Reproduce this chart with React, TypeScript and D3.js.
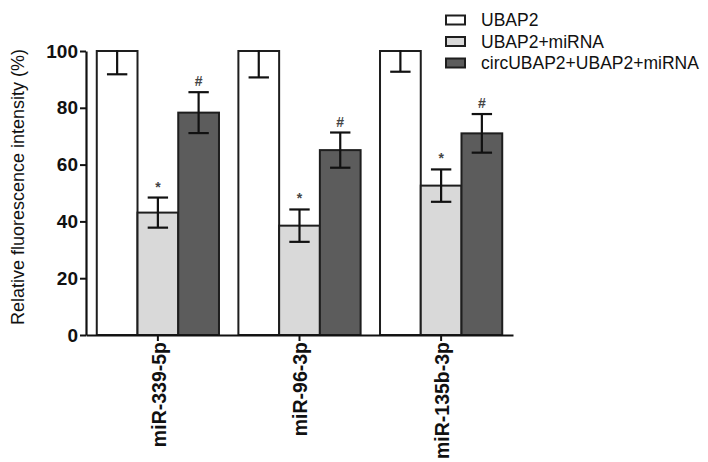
import * as d3 from "d3";
import { useEffect, useRef } from "react";

// categories on the x axis
const categories = ["miR-339-5p", "miR-96-3p", "miR-135b-3p"];
// series names (legend)
const seriesNames = ["UBAP2", "UBAP2+miRNA", "circUBAP2+UBAP2+miRNA"];
// series values (mean) and error (SD)
const ubap2 = [100, 100, 100];
const ubap2Err = [8.2, 9.3, 7.3];
const ubap2Mirna = [43.1, 38.5, 52.6];
const ubap2MirnaErr = [5.3, 5.7, 5.7];
const circUbap2 = [78.3, 65.1, 71.0];
const circUbap2Err = [7.2, 6.2, 6.8];
// significance marks above each series
const sigMarks = ["", "*", "#"];
const yTicks = [0, 20, 40, 60, 80, 100];

const seriesValues = [ubap2, ubap2Mirna, circUbap2];
const seriesErrors = [ubap2Err, ubap2MirnaErr, circUbap2Err];
const fills = ["#ffffff", "#d9d9d9", "#5c5c5c"];

const W = 708;
const H = 462;
const margin = { left: 86, right: 195, top: 51, bottom: 127 };
const FONT = "'Liberation Sans', Arial, Helvetica, sans-serif";

export default function App() {
	const svgRef = useRef<SVGSVGElement | null>(null);

	useEffect(() => {
		const svg = d3.select(svgRef.current);
		svg.selectAll("*").remove();

		svg.append("rect").attr("width", W).attr("height", H).attr("fill", "#fff");

		const x0 = d3
			.scaleBand<string>()
			.domain(categories)
			.range([margin.left, W - margin.right])
			.paddingInner(0.137)
			.paddingOuter(0.076);
		const x1 = d3
			.scaleBand<string>()
			.domain(seriesNames)
			.range([0, x0.bandwidth()]);
		const y = d3
			.scaleLinear()
			.domain([0, 100])
			.range([H - margin.bottom, margin.top]);

		// clip the error bars to the plot range
		svg
			.append("clipPath")
			.attr("id", "plotclip")
			.append("rect")
			.attr("x", 0)
			.attr("y", y(100) - 1)
			.attr("width", W)
			.attr("height", y(0) - y(100) + 2);

		const rows = categories.flatMap((c, ci) =>
			seriesNames.map((s, si) => ({
				c,
				s,
				si,
				v: seriesValues[si][ci],
				e: seriesErrors[si][ci],
			}))
		);

		const bars = svg.append("g");
		bars
			.selectAll("rect")
			.data(rows)
			.enter()
			.append("rect")
			.attr("x", (d) => x0(d.c)! + x1(d.s)!)
			.attr("y", (d) => y(d.v))
			.attr("width", x1.bandwidth())
			.attr("height", (d) => y(0) - y(d.v))
			.attr("fill", (d) => fills[d.si])
			.attr("stroke", "#1e1e1e")
			.attr("stroke-width", 2);

		// error bars
		const err = svg.append("g").attr("clip-path", "url(#plotclip)");
		const capW = x1.bandwidth() / 2;
		rows.forEach((d) => {
			const cx = x0(d.c)! + x1(d.s)! + x1.bandwidth() / 2;
			const g = err.append("g").attr("stroke", "#111").attr("stroke-width", 2.2);
			g.append("line")
				.attr("x1", cx)
				.attr("x2", cx)
				.attr("y1", y(d.v + d.e))
				.attr("y2", y(d.v - d.e));
			[d.v + d.e, d.v - d.e].forEach((val) => {
				g.append("line")
					.attr("x1", cx - capW / 2)
					.attr("x2", cx + capW / 2)
					.attr("y1", y(val))
					.attr("y2", y(val));
			});
			if (sigMarks[d.si]) {
				svg
					.append("text")
					.attr("x", cx)
					.attr("y", y(d.v + d.e) - 6)
					.attr("text-anchor", "middle")
					.attr("font-family", FONT)
					.attr("font-size", 14)
					.attr("font-weight", "bold")
					.attr("fill", "#444")
					.text(sigMarks[d.si]);
			}
		});

		// y axis
		const yAxis = d3
			.axisLeft(y)
			.tickValues(yTicks)
			.tickSize(6)
			.tickPadding(2)
			.tickSizeOuter(0);
		const yg = svg
			.append("g")
			.attr("transform", `translate(${margin.left},0)`)
			.call(yAxis);
		yg.select(".domain").attr("stroke", "#111").attr("stroke-width", 2.2);
		yg.selectAll(".tick line").attr("stroke", "#111").attr("stroke-width", 2);
		yg.selectAll(".tick text")
			.attr("font-family", FONT)
			.attr("font-size", 19)
			.attr("font-weight", "bold")
			.attr("fill", "#111");

		// x axis
		const xAxis = d3.axisBottom(x0).tickSize(6).tickSizeOuter(0).tickFormat(() => "");
		const xg = svg
			.append("g")
			.attr("transform", `translate(0,${y(0)})`)
			.call(xAxis);
		xg.select(".domain").attr("stroke", "#111").attr("stroke-width", 2.2);
		xg.selectAll(".tick line").attr("stroke", "#111").attr("stroke-width", 2);

		// rotated category labels
		svg
			.append("g")
			.selectAll("text")
			.data(categories)
			.enter()
			.append("text")
			.attr(
				"transform",
				(d) => `translate(${x0(d)! + x0.bandwidth() / 2 + 1},${y(0) + 7}) rotate(-90)`
			)
			.attr("text-anchor", "end")
			.attr("dy", "0.35em")
			.attr("font-family", FONT)
			.attr("font-size", 19.5)
			.attr("font-weight", "bold")
			.attr("fill", "#111")
			.text((d) => d);

		// y axis title
		svg
			.append("text")
			.attr("transform", `translate(24,${(y(0) + y(100)) / 2 - 6}) rotate(-90)`)
			.attr("text-anchor", "middle")
			.attr("font-family", FONT)
			.attr("font-size", 18)
			.attr("fill", "#111")
			.text("Relative fluorescence intensity (%)");

		// legend
		const legend = svg.append("g").attr("transform", "translate(446,20)");
		seriesNames.forEach((s, i) => {
			const row = legend.append("g").attr("transform", `translate(0,${i * 21.5})`);
			row.append("rect")
				.attr("x", 0)
				.attr("y", -4.5)
				.attr("width", 19)
				.attr("height", 9)
				.attr("fill", fills[i])
				.attr("stroke", "#1e1e1e")
				.attr("stroke-width", 2);
			row.append("text")
				.attr("x", 35)
				.attr("y", 6)
				.attr("font-family", FONT)
				.attr("font-size", 17.5)
				.attr("fill", "#111")
				.text(s);
		});
	}, []);

	return (
		<svg
			ref={svgRef}
			width={W}
			height={H}
			style={{ position: "absolute", left: 0, top: 0 }}
		/>
	);
}
